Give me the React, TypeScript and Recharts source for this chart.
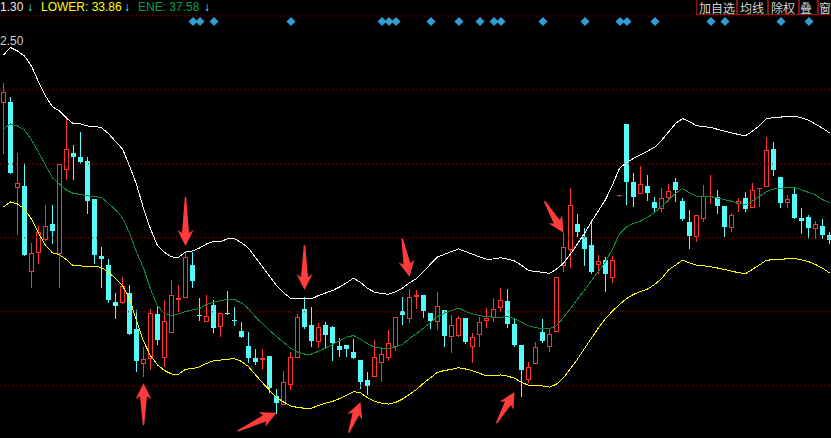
import React from 'react'
import { ComposedChart, Bar, Line, XAxis, YAxis, ReferenceLine, ReferenceDot } from 'recharts'

// candles, oldest first
const OPEN = [
  42.92, 42.89, 38.33, 38.37, 33.79, 34.78, 35.52, 36.31, 34.73, 39.27,
  40.13, 39.92, 39.72, 37.66, 34.57, 34.10, 32.08, 32.11, 32.60, 30.62,
  28.82, 29.09, 31.45, 29.14, 30.46, 32.24, 32.35, 34.10, 31.39, 31.05,
  31.93, 30.82, 31.50, 31.11, 30.53, 29.72, 29.09, 29.01, 29.18, 27.01,
  26.57, 27.65, 29.14, 31.72, 30.85, 30.00, 30.85, 30.73, 29.72, 29.77,
  29.38, 28.96, 27.88, 28.11, 28.87, 29.14, 29.73, 31.61, 31.21, 32.42,
  32.47, 31.49, 31.08, 31.66, 30.27, 30.31, 31.25, 29.73, 30.35, 31.12,
  31.30, 31.84, 32.15, 30.91, 29.77, 27.92, 28.82, 30.46, 29.73, 30.54,
  34.10, 34.96, 36.31, 35.59, 35.18, 34.15, 34.37, 33.46, 37.86, 41.72,
  38.60, 37.97, 38.37, 37.50, 37.19, 37.79, 38.60, 37.55, 36.42, 35.68,
  36.64, 37.82, 37.79, 37.28, 36.17, 37.43, 37.70, 37.25, 38.26, 38.38,
  40.37, 38.84, 37.49, 37.93, 36.65, 36.71, 36.11, 36.20, 35.72,
]
const HIGH = [
  43.93, 43.16, 40.17, 39.63, 35.30, 36.22, 37.34, 37.34, 39.56, 42.15,
  40.58, 41.27, 39.92, 37.66, 35.09, 34.40, 32.60, 33.46, 33.01, 31.66,
  29.68, 31.70, 31.84, 32.20, 33.28, 33.01, 34.81, 34.81, 32.30, 32.47,
  32.20, 31.49, 32.69, 31.81, 31.03, 30.49, 29.54, 29.54, 29.18, 27.38,
  28.37, 29.38, 31.45, 32.35, 31.81, 30.98, 31.03, 30.80, 30.13, 29.77,
  30.10, 28.96, 28.33, 30.04, 29.68, 30.58, 31.27, 32.35, 32.78, 32.74,
  32.47, 31.49, 32.62, 31.66, 31.39, 31.34, 31.25, 30.40, 31.30, 31.77,
  32.30, 32.87, 32.80, 31.21, 29.77, 28.87, 29.95, 31.16, 30.62, 33.43,
  35.84, 38.24, 36.85, 36.08, 36.53, 34.64, 34.51, 34.60, 37.87, 41.72,
  39.09, 39.45, 38.96, 37.76, 38.24, 38.47, 38.78, 37.70, 37.07, 36.80,
  38.42, 38.96, 38.15, 37.28, 36.89, 37.73, 38.02, 38.51, 38.27, 41.03,
  40.76, 38.84, 37.88, 38.30, 37.16, 36.80, 36.47, 36.57, 35.90,
]
const LOW = [
  40.15, 39.08, 35.77, 34.64, 32.92, 34.22, 35.45, 35.30, 32.89, 38.76,
  38.76, 39.63, 36.92, 34.19, 32.92, 32.11, 31.25, 32.03, 30.37, 28.38,
  28.11, 28.46, 29.83, 28.64, 30.46, 31.63, 32.35, 32.92, 31.12, 31.05,
  30.49, 30.27, 31.45, 30.85, 30.19, 28.87, 28.74, 28.47, 27.25, 26.11,
  26.57, 27.38, 29.14, 30.67, 29.73, 29.65, 29.65, 28.96, 29.19, 29.18,
  29.09, 27.43, 27.12, 28.11, 27.84, 28.96, 29.50, 30.89, 31.00, 31.77,
  31.27, 30.71, 30.64, 29.73, 29.41, 30.27, 29.86, 28.87, 29.73, 30.74,
  31.08, 31.61, 30.76, 29.73, 27.01, 27.79, 28.82, 29.92, 29.46, 30.54,
  33.79, 34.00, 35.66, 34.10, 33.68, 33.65, 32.71, 33.16, 37.85, 37.39,
  37.28, 37.97, 37.61, 37.03, 37.03, 37.57, 37.57, 36.53, 35.01, 35.41,
  36.49, 37.45, 36.92, 35.66, 35.95, 37.01, 37.01, 37.25, 37.28, 38.38,
  38.96, 37.25, 37.21, 36.62, 35.81, 35.57, 35.57, 35.54, 35.30,
]
const CLOSE = [
  43.43, 39.09, 38.51, 34.64, 34.73, 35.86, 36.20, 35.95, 39.54, 40.35,
  39.95, 39.66, 37.57, 34.64, 34.42, 32.20, 31.90, 32.98, 30.37, 28.92,
  29.00, 31.49, 30.04, 31.07, 32.46, 32.30, 34.51, 33.25, 31.34, 31.34,
  30.71, 31.49, 31.45, 31.07, 30.22, 29.09, 28.87, 29.09, 27.46, 26.65,
  27.76, 29.14, 31.27, 30.76, 30.00, 30.76, 30.31, 29.90, 29.50, 29.55,
  29.09, 27.79, 27.57, 29.11, 29.28, 29.86, 31.27, 31.39, 32.35, 32.47,
  31.63, 31.08, 31.90, 30.27, 30.85, 31.25, 29.92, 30.19, 31.00, 31.23,
  31.70, 32.20, 30.91, 29.77, 28.42, 28.60, 29.65, 29.99, 30.37, 33.43,
  35.05, 37.34, 35.90, 34.96, 33.73, 34.31, 33.61, 34.37, 37.86, 38.60,
  37.79, 38.47, 38.00, 37.18, 37.70, 38.10, 38.15, 36.58, 35.68, 36.80,
  37.83, 37.84, 37.28, 36.17, 36.80, 37.55, 37.14, 38.15, 38.27, 40.31,
  39.23, 37.46, 37.66, 36.62, 36.49, 36.11, 36.30, 35.72, 35.45,
]

// ENE indicator lines
const UPPER = [
  45.45, 45.85, 45.66, 45.39, 44.85, 43.99, 43.23, 42.64, 42.42, 42.04,
  41.72, 41.72, 41.61, 41.59, 41.51, 41.20, 40.77, 40.37, 39.45, 38.45,
  37.15, 36.04, 35.14, 34.78, 34.53, 34.51, 34.79, 34.85, 35.01, 35.23,
  35.36, 35.36, 35.51, 35.51, 35.30, 35.00, 34.49, 33.99, 33.49, 32.98,
  32.60, 32.30, 32.27, 32.26, 32.26, 32.44, 32.58, 32.71, 32.90, 33.13,
  33.38, 33.15, 32.83, 32.63, 32.55, 32.51, 32.64, 32.85, 33.13, 33.36,
  33.73, 34.14, 34.53, 34.67, 34.82, 34.96, 34.82, 34.68, 34.53, 34.40,
  34.42, 34.49, 34.41, 34.31, 34.08, 33.79, 33.75, 33.69, 33.64, 33.87,
  34.19, 34.69, 35.23, 35.81, 36.44, 37.03, 37.63, 38.42, 39.32, 39.63,
  39.86, 40.05, 40.25, 40.46, 40.83, 41.28, 41.74, 42.01, 41.85, 41.62,
  41.58, 41.53, 41.43, 41.33, 41.24, 41.15, 41.08, 41.33, 41.63, 42.00,
  42.06, 42.09, 42.12, 42.14, 42.05, 41.92, 41.71, 41.49, 41.24,
]
const ENE = [
  41.45, 41.72, 41.61, 41.39, 40.85, 40.20, 39.50, 38.80, 38.47, 38.15,
  37.96, 37.91, 37.83, 37.80, 37.74, 37.42, 37.07, 36.64, 35.83, 34.80,
  33.93, 32.80, 31.88, 31.47, 31.34, 31.45, 31.58, 31.67, 31.74, 31.96,
  32.08, 32.16, 32.24, 32.23, 32.04, 31.73, 31.28, 30.92, 30.56, 30.23,
  29.92, 29.60, 29.39, 29.28, 29.28, 29.43, 29.60, 29.79, 30.00, 30.19,
  30.28, 30.08, 29.84, 29.66, 29.59, 29.59, 29.66, 29.79, 30.12, 30.38,
  30.67, 30.98, 31.31, 31.48, 31.63, 31.76, 31.59, 31.45, 31.35, 31.30,
  31.28, 31.27, 31.30, 31.19, 31.00, 30.80, 30.71, 30.65, 30.66, 30.80,
  31.26, 31.74, 32.25, 32.73, 33.26, 33.76, 34.26, 34.96, 35.77, 36.15,
  36.34, 36.47, 36.67, 36.93, 37.25, 37.61, 37.97, 38.23, 38.00, 37.82,
  37.80, 37.79, 37.71, 37.63, 37.54, 37.44, 37.35, 37.56, 37.80, 38.06,
  38.20, 38.24, 38.27, 38.28, 38.15, 38.02, 37.88, 37.63, 37.46,
]
const LOWER = [
  37.23, 37.50, 37.39, 37.12, 36.57, 35.82, 35.15, 34.75, 34.65, 34.38,
  34.04, 34.04, 34.03, 34.02, 33.96, 33.71, 33.36, 32.98, 32.28, 31.07,
  29.97, 29.19, 28.69, 28.39, 28.20, 28.19, 28.46, 28.49, 28.59, 28.77,
  28.92, 28.95, 29.00, 29.03, 28.88, 28.60, 28.16, 27.73, 27.32, 26.94,
  26.69, 26.48, 26.39, 26.35, 26.35, 26.50, 26.63, 26.72, 26.87, 27.04,
  27.25, 27.18, 26.92, 26.72, 26.63, 26.57, 26.66, 26.85, 27.10, 27.36,
  27.70, 28.00, 28.29, 28.39, 28.45, 28.54, 28.47, 28.38, 28.24, 28.10,
  28.12, 28.15, 28.09, 27.97, 27.74, 27.60, 27.57, 27.56, 27.49, 27.65,
  28.00, 28.50, 29.01, 29.58, 30.14, 30.70, 31.20, 31.60, 31.96, 32.28,
  32.50, 32.66, 32.79, 33.03, 33.35, 33.83, 34.08, 34.36, 34.21, 34.09,
  34.05, 34.00, 33.93, 33.85, 33.76, 33.68, 33.62, 33.86, 34.10, 34.35,
  34.38, 34.40, 34.43, 34.45, 34.37, 34.28, 34.12, 33.92, 33.67,
]

const DAYS = OPEN.map((_, i) => `D${i + 1}`)

// candles that carry a blue diamond signal at the top
const SIGNAL_IDX = [27, 28, 30, 41, 54, 55, 56, 61, 65, 68, 70, 71, 77, 83, 88, 89, 93, 101, 103, 111, 115]
const SIGNAL_LEVEL = 47.26

const GRID_LEVELS = [47.56, 43.56, 39.56, 35.56, 31.56, 27.56]

// hand drawn red arrows: tip at (candle, price), pointing along angle (deg, 90 = down)
const ARROW_MARKS = [
  { idx: 26, price: 35.12, angle: 90, len: 49 },
  { idx: 43, price: 32.74, angle: 90, len: 45 },
  { idx: 58, price: 33.46, angle: 79, len: 39 },
  { idx: 20, price: 27.7, angle: -90, len: 42 },
  { idx: 39, price: 26.1, angle: -25, len: 43 },
  { idx: 51, price: 26.69, angle: -69, len: 33 },
  { idx: 73, price: 27.23, angle: -60, len: 36 },
  { idx: 80, price: 35.83, angle: 59, len: 37 },
]

const RED = '#ff3232'
const CYAN = '#54fcfc'

const data = DAYS.map((day, i) => ({
  day,
  open: OPEN[i],
  high: HIGH[i],
  low: LOW[i],
  close: CLOSE[i],
  upper: UPPER[i],
  ene: ENE[i],
  lower: LOWER[i],
  signal: SIGNAL_IDX.includes(i) ? SIGNAL_LEVEL : null,
}))

function Candle(props: any) {
  const { x, y, width, height, payload } = props
  const { open, close, high, low } = payload
  const span = high - low
  const toY = (v: number) => (span > 0 ? y + ((high - v) / span) * height : y)
  const up = close >= open
  const color = up ? RED : CYAN
  const cx = Math.floor(x + width / 2) + 0.5
  const left = cx - 2.5
  const yHigh = Math.round(toY(high))
  const yLow = Math.round(toY(low))
  const top = Math.round(toY(Math.max(open, close)))
  const bottom = Math.round(toY(Math.min(open, close)))
  const h = bottom - top

  if (!up) {
    return (
      <g shapeRendering="crispEdges">
        <line x1={cx} x2={cx} y1={yHigh} y2={yLow + 1} stroke={color} strokeWidth={1} />
        <rect x={left} y={top} width={5} height={Math.max(h, 1)} fill={color} />
      </g>
    )
  }
  return (
    <g shapeRendering="crispEdges">
      {yHigh < top && <line x1={cx} x2={cx} y1={yHigh} y2={top} stroke={color} strokeWidth={1} />}
      {yLow > bottom && <line x1={cx} x2={cx} y1={bottom + 1} y2={yLow + 1} stroke={color} strokeWidth={1} />}
      {h >= 1 ? (
        <rect x={left + 0.5} y={top + 0.5} width={4} height={h} fill="none" stroke={color} strokeWidth={1} />
      ) : (
        <line x1={left} x2={left + 5} y1={top + 0.5} y2={top + 0.5} stroke={color} strokeWidth={1} />
      )}
    </g>
  )
}

function Diamond(props: any) {
  const { cx, cy, value, index } = props
  if (value == null || cx == null || cy == null) return <g key={`s${index}`} />
  const px = Math.floor(cx) + 1
  return (
    <path
      key={`s${index}`}
      d={`M${px},${cy - 4.5} L${px + 4.5},${cy} L${px},${cy + 4.5} L${px - 4.5},${cy} Z`}
      fill="#2e9fd3"
    />
  )
}

function Arrow({ cx, cy, angle, len }: { cx: number; cy: number; angle: number; len: number }) {
  const pts = [
    [0, 0],
    [-16, -8],
    [-13, -3.5],
    [-len, -0.7],
    [-len, 0.7],
    [-13, 3.5],
    [-16, 8],
  ]
  return (
    <polygon
      points={pts.map((p) => p.join(',')).join(' ')}
      transform={`translate(${cx},${cy}) rotate(${angle})`}
      fill="#ff3b3b"
    />
  )
}

const textFont = '"Liberation Sans", Arial, sans-serif'

function Header() {
  const item = (left: number, text: string, color: string, bold = false) => (
    <span style={{ position: 'absolute', left, top: 1, color, lineHeight: '12px', fontWeight: bold ? 700 : 400 }}>
      {text}
    </span>
  )
  return (
    <div style={{ position: 'absolute', left: 0, top: 0, fontFamily: textFont, fontSize: 12, whiteSpace: 'nowrap' }}>
      {item(0, '1.30', '#e8e8e8')}
      {item(27, '↓', '#55ffff', true)}
      {item(41, 'LOWER: 33.86', '#ffff00')}
      {item(124, '↓', '#55ffff', true)}
      {item(138, 'ENE: 37.58', '#00a050')}
      {item(204, '↓', '#55ffff', true)}
      <span style={{ position: 'absolute', left: 0, top: 35, color: '#cfcfcf', lineHeight: '12px' }}>2.50</span>
    </div>
  )
}

const BUTTONS = [
  { label: '加自选', left: 696, width: 41 },
  { label: '均线', left: 737, width: 31 },
  { label: '除权', left: 768, width: 31 },
  { label: '叠', left: 799, width: 19 },
  { label: '窗', left: 818, width: 16 },
]

function Buttons() {
  return (
    <div style={{ position: 'absolute', left: 0, top: 0 }}>
      {BUTTONS.map((b) => (
        <div
          key={b.label}
          style={{
            position: 'absolute',
            left: b.left,
            top: -1,
            width: b.width,
            height: 16,
            boxSizing: 'border-box',
            border: '1px solid #8c1414',
            background: '#000',
            color: '#d4d4d4',
            fontFamily: '"Noto Sans CJK SC", sans-serif',
            fontSize: 12,
            lineHeight: '15px',
            paddingLeft: b.label.length === 1 ? 0 : 2,
            overflow: 'hidden',
            whiteSpace: 'nowrap',
          }}
        >
          {b.label}
        </div>
      ))}
    </div>
  )
}

export default function App() {
  return (
    <div
      style={{
        position: 'fixed',
        left: 0,
        top: 0,
        width: 831,
        height: 438,
        overflow: 'hidden',
        background: '#000',
      }}
    >
      <style>{'.recharts-line-curve { shape-rendering: crispEdges; }'}</style>
      <ComposedChart width={833} height={438} data={data} margin={{ top: 0, right: 0, bottom: 0, left: 0 }}>
        <XAxis dataKey="day" type="category" hide />
        <YAxis type="number" hide domain={[24.74, 48.42]} allowDataOverflow />
        {GRID_LEVELS.map((v) => (
          <ReferenceLine key={v} y={v} stroke="#9a0000" strokeDasharray="1 3" strokeWidth={1} />
        ))}
        <Bar dataKey={(d: any) => [d.low, d.high]} barSize={5} shape={<Candle />} isAnimationActive={false} />
        <Line dataKey="upper" type="linear" stroke="#ffffff" strokeWidth={1} dot={false} activeDot={false} isAnimationActive={false} />
        <Line dataKey="ene" type="linear" stroke="#0c8a3a" strokeWidth={1} dot={false} activeDot={false} isAnimationActive={false} />
        <Line dataKey="lower" type="linear" stroke="#ffff00" strokeWidth={1} dot={false} activeDot={false} isAnimationActive={false} />
        <Line dataKey="signal" type="linear" stroke="none" dot={(p: any) => <Diamond {...p} />} activeDot={false} isAnimationActive={false} />
        {ARROW_MARKS.map((a) => (
          <ReferenceDot
            key={`${a.idx}-${a.angle}`}
            x={DAYS[a.idx]}
            y={a.price}
            r={0}
            ifOverflow="visible"
            shape={(p: any) => <Arrow cx={p.cx} cy={p.cy} angle={a.angle} len={a.len} />}
          />
        ))}
      </ComposedChart>
      <Header />
      <Buttons />
    </div>
  )
}
